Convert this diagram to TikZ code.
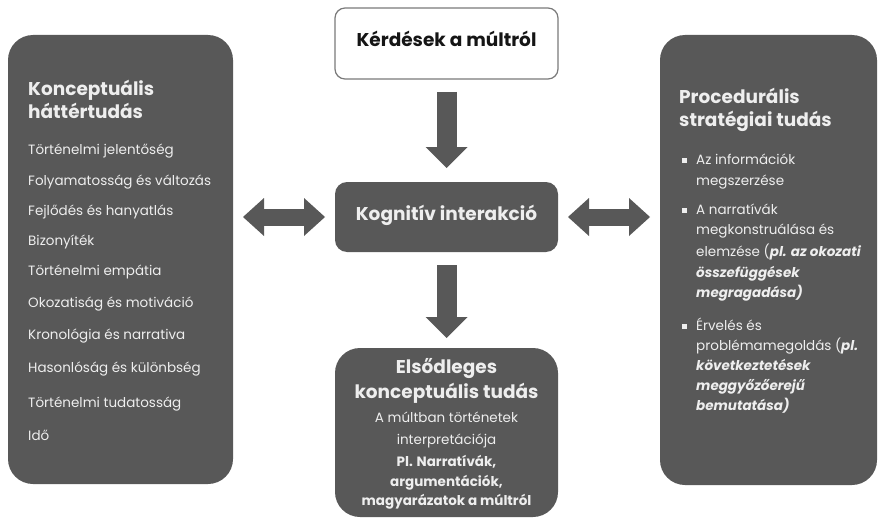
\documentclass[tikz,border=0pt]{standalone}
\usepackage{fontspec}
\setmainfont{Poppins}
\usetikzlibrary{arrows.meta}
\definecolor{boxgray}{HTML}{585858}
\definecolor{txtlight}{HTML}{EEEEEE}
\definecolor{edgegray}{HTML}{7A7A7A}
\definecolor{txtdark}{HTML}{151515}
\newcommand{\bi}[1]{\textbf{\textit{#1}}}
\begin{document}
\begin{tikzpicture}[x=1pt,y=-1pt,
  darkbox/.style={fill=boxgray, draw=none, inner sep=0pt, outer sep=0pt},
  lightbox/.style={fill=white, draw=edgegray, line width=1.2pt, inner sep=0pt, outer sep=0pt},
  item/.style={anchor=west, inner sep=0pt, text=txtlight, font=\fontsize{13.5}{16}\selectfont, text height=0.7em, text depth=0.2em},
  titl/.style={anchor=west, inner sep=0pt, text=txtlight, font=\fontsize{18.5}{22}\selectfont\bfseries, text height=0.7em, text depth=0em},
  ctitl/.style={titl, anchor=center},
  citem/.style={item, anchor=center},
  bul/.style={fill=txtlight, inner sep=0pt, minimum size=5pt},
  blockarrow/.style={draw=boxgray, line width=20pt, -{Triangle[length=21pt,width=42pt,line width=0pt]}},
  dblarrow/.style={draw=boxgray, line width=17pt, {Triangle[length=21pt,width=38pt,line width=0pt]}-{Triangle[length=21pt,width=38pt,line width=0pt]}}
]
\useasboundingbox (0,0) rectangle (879,519);

% boxes
\node[darkbox, rounded corners=25pt, minimum width=225pt, minimum height=449pt] (left) at (120.5,259.5) {};
\node[darkbox, rounded corners=25pt, minimum width=217pt, minimum height=450pt] (right) at (768.5,260) {};
\node[lightbox, rounded corners=10pt, minimum width=223pt, minimum height=71pt] (top) at (446.5,43.5) {};
\node[darkbox, rounded corners=12pt, minimum width=223pt, minimum height=70pt] (mid) at (446.5,217) {};
\node[darkbox, rounded corners=25pt, minimum width=223pt, minimum height=169pt] (bot) at (446.5,432.5) {};

% arrows
\draw[blockarrow, shorten <=13pt, shorten >=14pt] (top) -- (mid);
\draw[blockarrow, shorten <=13pt, shorten >=10pt] (mid) -- (bot);
\draw[dblarrow, shorten <=10pt, shorten >=10pt] (left.east |- mid.west) -- (mid.west);
\draw[dblarrow, shorten <=10pt, shorten >=10pt] (mid.east) -- (right.west |- mid.east);

% top and middle texts
\node[ctitl, text=txtdark] (toptxt) at (top.center) {Kérdések a múltról};
\node[ctitl] (midtxt) at (mid.center) {Kognitív interakció};

% left box
\node[titl] (lt1) at (28,92) {Konceptuális};
\node[titl] (lt2) at (28,115) {háttértudás};
\foreach \t/\y [count=\i] in {Történelmi jelentőség/152, Folyamatosság és változás/183, Fejlődés és hanyatlás/213, Bizonyíték/243, Történelmi empátia/273, Okozatiság és motiváció/305, Kronológia és narrativa/337, Hasonlóság és különbség/370, Történelmi tudatosság/405, Idő/438}
  \node[item] (li\i) at (28,\y) {\t};

% right box
\node[titl] (rt1) at (679,100) {Procedurális};
\node[titl] (rt2) at (679,123) {stratégiai tudás};
\node[bul] (b1) at (684.5,160) {};
\node[bul] (b2) at (684.5,210) {};
\node[bul] (b3) at (684.5,326) {};
\node[item] (r1) at (696,162) {Az információk};
\node[item] (r2) at (696,183) {megszerzése};
\node[item] (r3) at (696,212) {A narratívák};
\node[item] (r4) at (696,232) {megkonstruálása és};
\node[item] (r5) at (696,254) {elemzése (\bi{pl. az okozati}};
\node[item] (r6) at (696,275) {\bi{összefüggések}};
\node[item] (r7) at (696,295) {\bi{megragadása)}};
\node[item] (r8) at (696,328) {Érvelés és};
\node[item] (r9) at (696,348) {problémamegoldás (\bi{pl.}};
\node[item] (r10) at (696,368) {\bi{következtetések}};
\node[item] (r11) at (696,388) {\bi{meggyőzőerejű}};
\node[item] (r12) at (696,408) {\bi{bemutatása)}};

% bottom box
\node[ctitl] (bt1) at (446.5,370) {Elsődleges};
\node[ctitl] (bt2) at (446.5,395) {konceptuális tudás};
\node[citem] (bt3) at (446.5,420) {A múltban történetek};
\node[citem] (bt4) at (446.5,442) {interpretációja};
\node[citem, font=\fontsize{13.5}{16}\selectfont\bfseries] (bt5) at (446.5,464) {Pl. Narratívák,};
\node[citem, font=\fontsize{13.5}{16}\selectfont\bfseries] (bt6) at (446.5,484) {argumentációk,};
\node[citem, font=\fontsize{13.5}{16}\selectfont\bfseries] (bt7) at (446.5,503) {magyarázatok a múltról};
\end{tikzpicture}
\end{document}
